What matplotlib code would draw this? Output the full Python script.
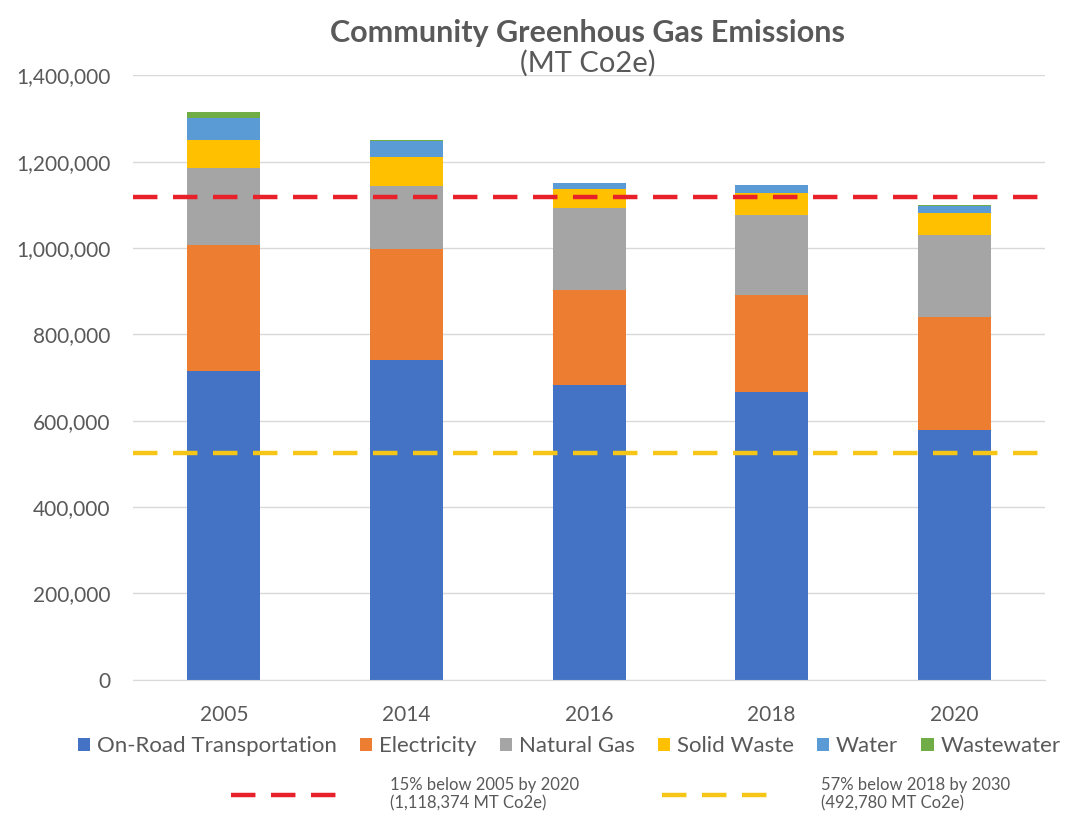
import matplotlib.pyplot as plt
from matplotlib.lines import Line2D
from matplotlib.patches import Patch
from matplotlib.ticker import FuncFormatter
import numpy as np


YEARS = ["2005", "2014", "2016", "2018", "2020"]

SECTORS = ["On-Road Transportation", "Electricity", "Natural Gas",
           "Solid Waste", "Water", "Wastewater"]

transportation = [715000, 740500, 682600, 666500, 578500]
electricity = [291600, 258000, 219900, 224500, 261500]
natural_gas = [178400, 145000, 190400, 185000, 189700]
solid_waste = [64600, 68000, 43300, 52500, 52300]
water = [51100, 36400, 13800, 16900, 15600]
wastewater = [14300, 3000, 1500, 1500, 1500]

TARGET_2020 = 1118374
TARGET_2030_DRAWN = 525000
TARGET_LABELS = ["15% below 2005 by 2020\n(1,118,374 MT Co2e)",
                 "57% below 2018 by 2030\n(492,780 MT Co2e)"]

COLORS = ["#4472C4", "#ED7D31", "#A5A5A5", "#FFC000", "#5B9BD5", "#70AD47"]
TEXT_COLOR = "#595959"

plt.rcParams["font.family"] = ["Lato", "DejaVu Sans"]


def main():
    fig = plt.figure(figsize=(10.70, 8.19), dpi=100)
    ax = fig.add_axes([0.124, 0.170, 0.853, 0.738])

    series = [transportation, electricity, natural_gas, solid_waste, water, wastewater]
    x = np.arange(len(YEARS))
    bottom = np.zeros(len(YEARS))
    for values, color in zip(series, COLORS):
        ax.bar(x, values, width=0.4, bottom=bottom, color=color, zorder=2)
        bottom += np.array(values)

    ax.axhline(TARGET_2020, color="#E8202A", lw=3.2, ls=(0, (5.5, 3.5)), zorder=3)
    ax.axhline(TARGET_2030_DRAWN, color="#F5C518", lw=3.2, ls=(0, (5.5, 3.5)), zorder=3)

    ax.set_xlim(-0.5, 4.5)
    ax.set_ylim(0, 1400000)
    ax.set_yticks(np.arange(0, 1400001, 200000))
    ax.yaxis.set_major_formatter(FuncFormatter(lambda v, p: f"{int(v):,}"))
    ax.set_xticks(x)
    ax.set_xticklabels(YEARS)
    ax.tick_params(axis="both", length=0, labelsize=15, labelcolor=TEXT_COLOR)
    ax.tick_params(axis="y", pad=16)
    ax.tick_params(axis="x", pad=18)
    ax.grid(axis="y", color="#D9D9D9", lw=1, zorder=0)
    for side in ["top", "right", "left"]:
        ax.spines[side].set_visible(False)
    ax.spines["bottom"].set_color("#D9D9D9")

    fig.text(0.549, 0.960, "Community Greenhous Gas Emissions", ha="center", va="center",
             fontsize=22, fontweight="bold", color=TEXT_COLOR)
    fig.text(0.549, 0.923, "(MT Co2e)", ha="center", va="center",
             fontsize=21, color=TEXT_COLOR)

    sector_handles = [Patch(facecolor=c, label=s) for c, s in zip(COLORS, SECTORS)]
    fig.legend(handles=sector_handles, loc="center", bbox_to_anchor=(0.532, 0.089),
               ncol=6, frameon=False, fontsize=16, labelcolor=TEXT_COLOR,
               handlelength=0.55, handleheight=0.55, handletextpad=0.3, columnspacing=1.05)

    target_handles = [
        Line2D([], [], color="#E8202A", lw=3.2, ls=(0, (5.5, 3.5)), label=TARGET_LABELS[0]),
        Line2D([], [], color="#F5C518", lw=3.2, ls=(0, (5.5, 3.5)), label=TARGET_LABELS[1]),
    ]
    fig.legend(handles=target_handles, loc="center", bbox_to_anchor=(0.58, 0.03),
               ncol=2, frameon=False, fontsize=12, labelcolor=TEXT_COLOR,
               handlelength=7.2, handletextpad=2.3, columnspacing=5.0, labelspacing=0.3)

    fig.savefig("out.png", dpi=100)


if __name__ == "__main__":
    main()
